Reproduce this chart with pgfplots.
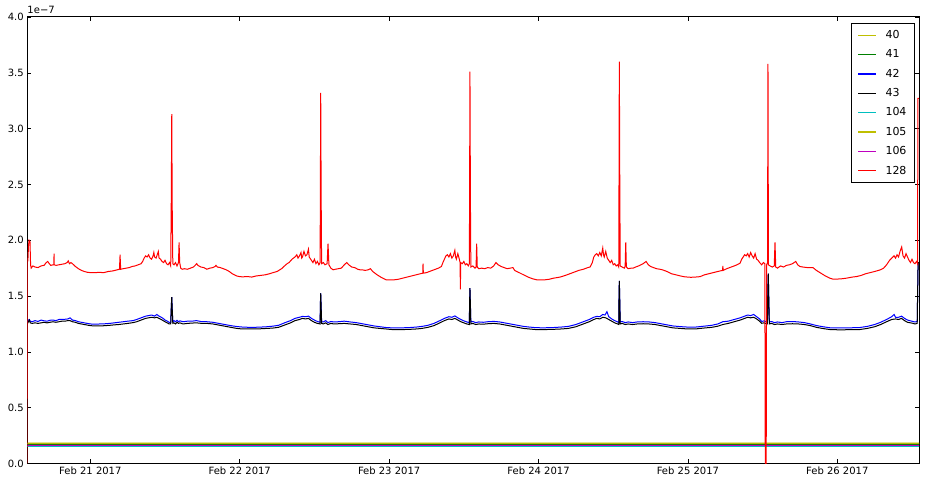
\documentclass[border=0pt]{standalone}
\usepackage{pgfplots}
\pgfplotsset{compat=1.18}
\usepackage{pgfplotstable}
\usepackage{fontspec}
\setmainfont{DejaVu Sans}
\definecolor{mpy}{rgb}{0.75,0.75,0}
\definecolor{mpg}{rgb}{0,0.5,0}
\definecolor{mpc}{rgb}{0,0.75,0.75}
\definecolor{mpm}{rgb}{0.75,0,0.75}

\pgfplotstableread{
x y
-0.4225 0.180
1.0 0.181
2.5 0.180
4.0 0.181
5.55 0.180
}\tabA
\pgfplotstableread{
x y
-0.4225 0.171
1.5 0.172
3.0 0.171
4.5 0.172
5.55 0.171
}\tabB
\pgfplotstableread{
x y
-0.4225 0.153
1.5 0.154
3.0 0.153
4.5 0.153
5.55 0.153
}\tabE
\pgfplotstableread{
x y
-0.4225 0.182
1.5 0.182
3.0 0.183
4.5 0.182
5.55 0.182
}\tabF
\pgfplotstableread{
x y
-0.4225 0.162
1.5 0.162
3.0 0.163
4.5 0.162
5.55 0.162
}\tabG

\pgfplotstableread{
x y
-0.4225 1.265
-0.415 1.285
-0.408 1.29
-0.402 1.275
-0.39 1.27
-0.37 1.28
-0.35 1.272
-0.33 1.285
-0.31 1.278
-0.29 1.275
-0.27 1.283
-0.25 1.285
-0.23 1.28
-0.21 1.29
-0.19 1.29
-0.17 1.292
-0.15 1.295
-0.136 1.305
-0.12 1.285
-0.10 1.28
-0.08 1.27
-0.06 1.265
-0.04 1.26
-0.02 1.255
0.00 1.25
0.03 1.248
0.065 1.25
0.10 1.252
0.13 1.255
0.16 1.26
0.19 1.265
0.22 1.27
0.25 1.275
0.286 1.28
0.31 1.29
0.33 1.30
0.35 1.31
0.37 1.32
0.39 1.325
0.41 1.33
0.43 1.32
0.445 1.335
0.46 1.32
0.475 1.31
0.487 1.30
0.50 1.285
0.515 1.275
0.527 1.265
0.538 1.265
0.542 1.41
0.545 1.49
0.548 1.39
0.552 1.27
0.56 1.28
0.57 1.27
0.58 1.282
0.59 1.27
0.60 1.278
0.62 1.27
0.65 1.275
0.68 1.275
0.71 1.28
0.74 1.272
0.78 1.27
0.82 1.265
0.86 1.255
0.90 1.245
0.94 1.235
0.98 1.227
1.02 1.222
1.06 1.22
1.10 1.22
1.14 1.222
1.18 1.225
1.22 1.23
1.26 1.238
1.30 1.26
1.34 1.28
1.37 1.30
1.40 1.31
1.42 1.318
1.44 1.315
1.46 1.32
1.48 1.30
1.50 1.285
1.52 1.272
1.538 1.265
1.540 1.43
1.542 1.525
1.545 1.41
1.548 1.27
1.56 1.268
1.575 1.28
1.59 1.262
1.61 1.272
1.63 1.268
1.66 1.27
1.70 1.275
1.74 1.268
1.78 1.262
1.82 1.252
1.86 1.242
1.90 1.232
1.94 1.225
1.98 1.218
2.02 1.215
2.06 1.215
2.10 1.216
2.14 1.218
2.18 1.222
2.22 1.228
2.26 1.238
2.30 1.255
2.34 1.28
2.37 1.30
2.40 1.315
2.42 1.31
2.44 1.322
2.46 1.305
2.48 1.29
2.50 1.278
2.52 1.268
2.537 1.262
2.539 1.46
2.541 1.57
2.544 1.43
2.547 1.268
2.56 1.272
2.58 1.262
2.60 1.268
2.63 1.265
2.66 1.27
2.70 1.273
2.74 1.268
2.78 1.258
2.82 1.248
2.86 1.238
2.90 1.228
2.94 1.222
2.98 1.217
3.01 1.216
3.05 1.216
3.10 1.218
3.15 1.222
3.20 1.228
3.25 1.245
3.30 1.27
3.34 1.29
3.37 1.31
3.39 1.318
3.41 1.315
3.43 1.335
3.445 1.33
3.458 1.36
3.47 1.315
3.49 1.295
3.51 1.28
3.53 1.268
3.537 1.262
3.539 1.51
3.541 1.635
3.544 1.46
3.547 1.268
3.56 1.272
3.58 1.262
3.60 1.268
3.63 1.262
3.66 1.268
3.70 1.27
3.74 1.268
3.78 1.262
3.82 1.252
3.86 1.242
3.90 1.232
3.95 1.226
4.00 1.222
4.05 1.222
4.08 1.226
4.12 1.232
4.16 1.238
4.20 1.25
4.234 1.27
4.27 1.275
4.31 1.29
4.35 1.305
4.38 1.32
4.40 1.33
4.42 1.325
4.44 1.335
4.46 1.315
4.48 1.295
4.494 1.272
4.51 1.278
4.525 1.268
4.532 1.268
4.535 1.56
4.538 1.70
4.541 1.51
4.545 1.268
4.56 1.272
4.58 1.262
4.60 1.268
4.63 1.262
4.66 1.27
4.70 1.272
4.74 1.268
4.78 1.262
4.82 1.25
4.86 1.236
4.90 1.226
4.95 1.216
5.00 1.214
5.05 1.214
5.10 1.216
5.15 1.218
5.20 1.228
5.25 1.245
5.29 1.265
5.33 1.29
5.364 1.315
5.38 1.335
5.39 1.31
5.41 1.31
5.43 1.32
5.45 1.30
5.47 1.285
5.49 1.278
5.506 1.272
5.52 1.268
5.535 1.272
5.538 1.56
5.541 1.80
5.546 1.80
}\tabC

\pgfplotstableread{
x y
-0.4225 1.25
-0.415 1.27
-0.408 1.285
-0.402 1.26
-0.39 1.255
-0.37 1.26
-0.35 1.255
-0.33 1.26
-0.31 1.265
-0.29 1.26
-0.27 1.265
-0.25 1.27
-0.23 1.265
-0.21 1.27
-0.19 1.275
-0.17 1.275
-0.15 1.28
-0.136 1.28
-0.12 1.27
-0.10 1.265
-0.08 1.255
-0.06 1.25
-0.04 1.245
-0.02 1.24
0.00 1.235
0.03 1.232
0.065 1.232
0.10 1.235
0.13 1.238
0.16 1.242
0.19 1.245
0.22 1.25
0.25 1.255
0.286 1.262
0.31 1.27
0.33 1.28
0.35 1.29
0.37 1.30
0.39 1.305
0.41 1.31
0.43 1.305
0.445 1.31
0.46 1.30
0.475 1.29
0.487 1.28
0.50 1.27
0.515 1.26
0.527 1.25
0.538 1.25
0.542 1.40
0.545 1.49
0.548 1.38
0.552 1.255
0.56 1.26
0.57 1.25
0.58 1.265
0.59 1.255
0.60 1.26
0.62 1.25
0.65 1.255
0.68 1.258
0.71 1.26
0.74 1.256
0.78 1.255
0.82 1.25
0.86 1.24
0.90 1.23
0.94 1.22
0.98 1.21
1.02 1.205
1.06 1.205
1.10 1.205
1.14 1.207
1.18 1.21
1.22 1.213
1.26 1.22
1.30 1.24
1.34 1.26
1.37 1.28
1.40 1.29
1.42 1.30
1.44 1.295
1.46 1.30
1.48 1.28
1.50 1.265
1.52 1.255
1.538 1.25
1.540 1.42
1.542 1.525
1.545 1.40
1.548 1.255
1.56 1.25
1.575 1.26
1.59 1.245
1.61 1.255
1.63 1.25
1.66 1.252
1.70 1.255
1.74 1.25
1.78 1.245
1.82 1.235
1.86 1.225
1.90 1.215
1.94 1.21
1.98 1.205
2.02 1.20
2.06 1.20
2.10 1.20
2.14 1.202
2.18 1.205
2.22 1.21
2.26 1.22
2.30 1.235
2.34 1.26
2.37 1.28
2.40 1.295
2.42 1.29
2.44 1.30
2.46 1.285
2.48 1.27
2.50 1.26
2.52 1.25
2.537 1.245
2.539 1.45
2.541 1.57
2.544 1.42
2.547 1.25
2.56 1.255
2.58 1.245
2.60 1.25
2.63 1.248
2.66 1.252
2.70 1.255
2.74 1.25
2.78 1.24
2.82 1.23
2.86 1.22
2.90 1.21
2.94 1.205
2.98 1.20
3.01 1.20
3.05 1.20
3.10 1.202
3.15 1.205
3.20 1.21
3.25 1.225
3.30 1.25
3.34 1.27
3.37 1.29
3.39 1.30
3.41 1.295
3.43 1.31
3.45 1.305
3.47 1.29
3.49 1.275
3.51 1.26
3.53 1.25
3.537 1.245
3.539 1.50
3.541 1.635
3.544 1.45
3.547 1.25
3.56 1.255
3.58 1.245
3.60 1.25
3.63 1.245
3.66 1.25
3.70 1.252
3.74 1.25
3.78 1.245
3.82 1.235
3.86 1.225
3.90 1.215
3.95 1.21
4.00 1.205
4.05 1.205
4.08 1.21
4.12 1.215
4.16 1.22
4.20 1.23
4.234 1.245
4.27 1.255
4.31 1.27
4.35 1.285
4.38 1.30
4.40 1.31
4.42 1.305
4.44 1.31
4.46 1.295
4.48 1.275
4.494 1.256
4.51 1.26
4.525 1.25
4.532 1.25
4.535 1.55
4.538 1.70
4.541 1.50
4.545 1.25
4.56 1.255
4.58 1.245
4.60 1.25
4.63 1.245
4.66 1.25
4.70 1.252
4.74 1.25
4.78 1.245
4.82 1.235
4.86 1.22
4.90 1.21
4.95 1.20
5.00 1.198
5.05 1.198
5.10 1.20
5.15 1.20
5.20 1.21
5.25 1.225
5.29 1.245
5.33 1.27
5.364 1.29
5.39 1.295
5.41 1.29
5.43 1.30
5.45 1.28
5.47 1.265
5.49 1.26
5.506 1.256
5.52 1.25
5.535 1.255
5.538 1.55
5.541 1.80
5.546 1.80
}\tabD

\pgfplotstableread{
x y
-0.4225 0
-0.4220 1.80
-0.418 1.82
-0.414 1.95
-0.410 2.00
-0.404 1.99
-0.400 1.78
-0.396 1.75
-0.385 1.77
-0.37 1.76
-0.35 1.755
-0.33 1.77
-0.31 1.775
-0.295 1.80
-0.285 1.81
-0.275 1.79
-0.265 1.775
-0.250 1.78
-0.244 1.78
-0.243 1.88
-0.242 1.78
-0.23 1.775
-0.21 1.78
-0.19 1.785
-0.17 1.79
-0.155 1.80
-0.148 1.815
-0.140 1.79
-0.130 1.80
-0.120 1.79
-0.10 1.765
-0.08 1.745
-0.06 1.73
-0.04 1.72
-0.02 1.713
0.00 1.71
0.03 1.71
0.06 1.712
0.09 1.71
0.12 1.72
0.15 1.725
0.18 1.735
0.195 1.74
0.199 1.87
0.203 1.74
0.22 1.745
0.24 1.75
0.26 1.755
0.28 1.765
0.30 1.77
0.32 1.78
0.34 1.79
0.35 1.81
0.36 1.84
0.37 1.86
0.38 1.85
0.39 1.87
0.40 1.84
0.41 1.83
0.42 1.86
0.425 1.89
0.43 1.85
0.44 1.84
0.45 1.88
0.455 1.90
0.46 1.84
0.47 1.83
0.48 1.81
0.49 1.80
0.50 1.82
0.51 1.79
0.52 1.78
0.53 1.80
0.538 1.77
0.542 2.40
0.545 3.13
0.548 2.30
0.552 1.79
0.56 1.78
0.57 1.80
0.58 1.77
0.590 1.80
0.594 1.98
0.598 1.80
0.605 1.75
0.615 1.74
0.63 1.745
0.65 1.74
0.67 1.75
0.69 1.76
0.705 1.78
0.712 1.79
0.72 1.775
0.74 1.76
0.76 1.755
0.78 1.74
0.80 1.75
0.82 1.755
0.835 1.765
0.841 1.775
0.85 1.76
0.87 1.755
0.89 1.745
0.91 1.735
0.93 1.72
0.95 1.70
0.98 1.68
1.00 1.674
1.02 1.672
1.05 1.675
1.08 1.67
1.11 1.68
1.14 1.685
1.17 1.69
1.20 1.70
1.223 1.71
1.25 1.72
1.28 1.745
1.30 1.77
1.317 1.79
1.33 1.80
1.35 1.83
1.37 1.85
1.382 1.87
1.39 1.84
1.40 1.86
1.41 1.89
1.415 1.84
1.42 1.85
1.43 1.90
1.44 1.86
1.45 1.87
1.46 1.92
1.465 1.85
1.47 1.84
1.48 1.82
1.49 1.80
1.50 1.83
1.51 1.79
1.52 1.81
1.53 1.78
1.538 1.80
1.540 2.50
1.542 3.32
1.545 2.40
1.548 1.79
1.56 1.80
1.57 1.78
1.585 1.79
1.591 1.97
1.597 1.78
1.61 1.75
1.625 1.735
1.64 1.74
1.66 1.745
1.68 1.75
1.70 1.78
1.716 1.80
1.73 1.78
1.75 1.76
1.77 1.755
1.79 1.74
1.805 1.735
1.82 1.735
1.84 1.73
1.86 1.735
1.875 1.745
1.89 1.72
1.92 1.69
1.95 1.665
1.98 1.645
2.00 1.645
2.03 1.645
2.06 1.65
2.09 1.66
2.12 1.67
2.15 1.68
2.18 1.69
2.21 1.70
2.225 1.705
2.227 1.79
2.229 1.705
2.25 1.71
2.27 1.72
2.29 1.73
2.31 1.74
2.33 1.75
2.35 1.765
2.36 1.80
2.37 1.83
2.38 1.86
2.39 1.87
2.40 1.85
2.41 1.88
2.42 1.84
2.43 1.86
2.44 1.91
2.445 1.85
2.45 1.83
2.46 1.88
2.47 1.83
2.475 1.80
2.477 1.56
2.479 1.80
2.49 1.79
2.50 1.81
2.51 1.78
2.52 1.79
2.53 1.77
2.537 1.79
2.539 2.50
2.541 3.51
2.544 2.40
2.547 1.76
2.56 1.77
2.575 1.75
2.582 1.76
2.586 1.97
2.590 1.76
2.60 1.745
2.62 1.75
2.64 1.745
2.66 1.755
2.68 1.75
2.70 1.77
2.715 1.80
2.73 1.78
2.75 1.765
2.77 1.755
2.79 1.745
2.81 1.75
2.829 1.755
2.84 1.73
2.87 1.71
2.90 1.69
2.93 1.67
2.96 1.655
2.99 1.645
3.01 1.644
3.04 1.645
3.07 1.65
3.10 1.66
3.144 1.67
3.18 1.685
3.21 1.70
3.24 1.715
3.27 1.73
3.30 1.74
3.33 1.755
3.345 1.76
3.36 1.80
3.37 1.85
3.38 1.87
3.39 1.88
3.40 1.86
3.41 1.89
3.42 1.86
3.43 1.93
3.435 1.87
3.44 1.85
3.45 1.90
3.46 1.84
3.47 1.82
3.48 1.80
3.49 1.82
3.50 1.78
3.51 1.79
3.52 1.77
3.53 1.78
3.537 1.76
3.539 2.60
3.541 3.60
3.544 2.50
3.547 1.77
3.56 1.76
3.575 1.75
3.58 1.77
3.584 1.98
3.588 1.76
3.60 1.745
3.62 1.75
3.633 1.75
3.65 1.76
3.67 1.77
3.70 1.79
3.72 1.81
3.735 1.78
3.75 1.765
3.77 1.755
3.79 1.745
3.813 1.74
3.83 1.735
3.86 1.72
3.89 1.70
3.92 1.69
3.95 1.68
3.98 1.672
4.00 1.67
4.02 1.668
4.05 1.67
4.082 1.674
4.11 1.69
4.14 1.70
4.17 1.71
4.20 1.72
4.232 1.73
4.234 1.77
4.236 1.73
4.26 1.745
4.29 1.76
4.32 1.775
4.349 1.794
4.36 1.83
4.37 1.85
4.38 1.87
4.39 1.86
4.40 1.88
4.41 1.85
4.42 1.89
4.43 1.86
4.44 1.84
4.45 1.88
4.46 1.83
4.47 1.82
4.48 1.80
4.494 1.78
4.505 1.80
4.515 1.79
4.518 0
4.524 0
4.527 1.78
4.533 1.80
4.536 3.58
4.539 1.78
4.55 1.77
4.565 1.76
4.578 1.77
4.583 1.98
4.588 1.76
4.60 1.75
4.62 1.77
4.64 1.76
4.66 1.775
4.68 1.78
4.70 1.79
4.722 1.81
4.735 1.78
4.75 1.765
4.77 1.76
4.80 1.755
4.837 1.755
4.86 1.73
4.89 1.705
4.92 1.68
4.95 1.66
4.97 1.652
5.00 1.652
5.03 1.655
5.06 1.66
5.10 1.67
5.13 1.675
5.16 1.685
5.19 1.70
5.22 1.71
5.25 1.72
5.286 1.734
5.31 1.75
5.33 1.78
5.35 1.82
5.364 1.84
5.38 1.86
5.39 1.84
5.40 1.87
5.41 1.85
5.42 1.90
5.431 1.94
5.44 1.86
5.45 1.84
5.46 1.88
5.47 1.85
5.48 1.82
5.49 1.80
5.50 1.83
5.51 1.80
5.52 1.79
5.53 1.81
5.537 1.79
5.540 3.27
5.546 3.27
}\tabH

\begin{document}
\begin{tikzpicture}
\begin{axis}[
  scale only axis,
  width=891.7pt, height=446.5pt,
  xmin=-0.422, xmax=5.547,
  ymin=0, ymax=4,
  xtick={0,1,2,3,4,5},
  xticklabels={Feb 21 2017,Feb 22 2017,Feb 23 2017,Feb 24 2017,Feb 25 2017,Feb 26 2017},
  ytick={0,0.5,1,1.5,2,2.5,3,3.5,4},
  yticklabel style={/pgf/number format/.cd, fixed, fixed zerofill, precision=1},
  /pgf/number format/assume math mode=true,
  tick label style={font=\fontsize{10}{12}\selectfont},
  major tick length=4pt,
  tick style={black, line width=0.6pt},
  axis line style={black, line width=1pt},
  tick align=inside,
  every axis plot/.append style={line width=1pt, mark=none},
  legend cell align=left,
  legend style={at={(0.9955,0.9866)}, anchor=north east, draw=black, line width=1pt,
    font=\fontsize{11}{13}\selectfont, row sep=5.7pt, inner xsep=6pt, inner ysep=5pt},
  legend image code/.code={\draw[#1, line width=1.3pt] (0pt,0pt) -- (18pt,0pt); \path (25pt,0pt);},
]
\addplot[color=mpy] table {\tabA};
\addlegendentry{40}
\addplot[color=mpg] table {\tabB};
\addlegendentry{41}
\addplot[color=blue] table {\tabC};
\addlegendentry{42}
\addplot[color=black] table {\tabD};
\addlegendentry{43}
\addplot[color=mpc] table {\tabE};
\addlegendentry{104}
\addplot[color=mpy] table {\tabF};
\addlegendentry{105}
\addplot[color=mpm] table {\tabG};
\addlegendentry{106}
\addplot[color=red] table {\tabH};
\addlegendentry{128}
\end{axis}
\node[anchor=south west, inner sep=0pt, font=\fontsize{10}{12}\selectfont] at ([yshift=3pt]current axis.north west) {1e−7};
\path ([xshift=-27.3pt,yshift=-21.5pt]current axis.south west) rectangle ([xshift=8pt,yshift=17pt]current axis.north east);
\end{tikzpicture}
\end{document}
